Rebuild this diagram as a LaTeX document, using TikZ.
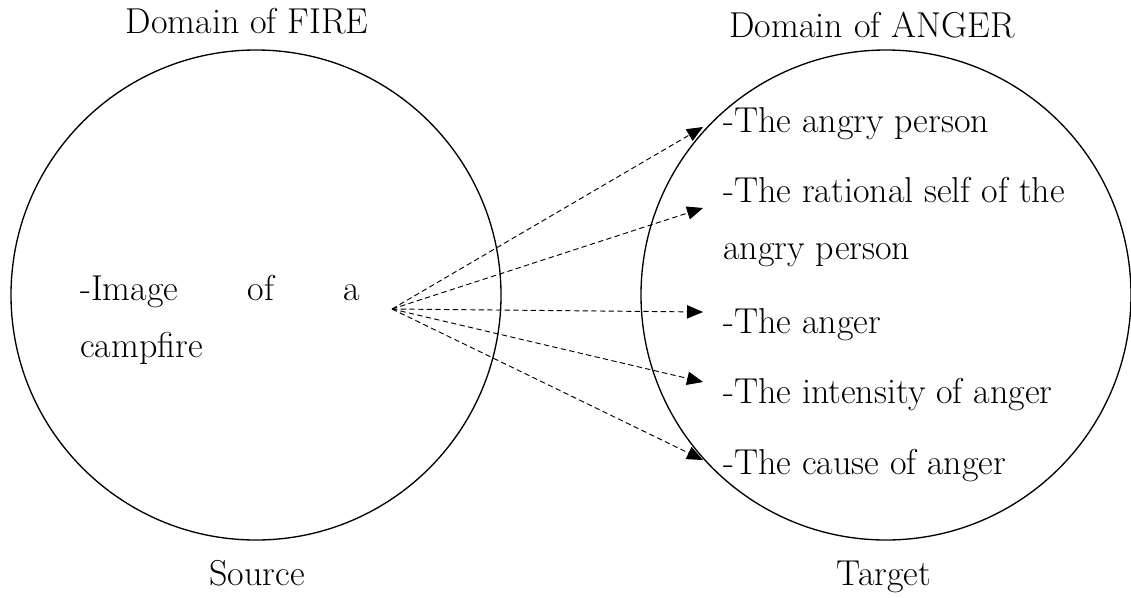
\documentclass[tikz,border=0pt]{standalone}
\usetikzlibrary{arrows.meta}
\begin{document}
\begin{tikzpicture}[x=0.75pt,y=-0.75pt,
  dom/.style={draw,circle,line width=1pt,inner sep=0pt,minimum size=367.5pt},
  lbl/.style={inner sep=0pt,anchor=base,font=\fontsize{27}{32}\selectfont},
  item/.style={inner sep=0pt,anchor=base west,font=\fontsize{27}{32}\selectfont},
  maparrow/.style={line width=0.7pt,dash pattern=on 4pt off 2.5pt,-{Triangle[length=12pt,width=10pt]}}]
\useasboundingbox (0,0) rectangle (1131,597);
\node[dom] (fire) at (256,295) {};
\node[dom] (anger) at (886,295) {};
\node[lbl] (tf) at (247,33) {Domain of FIRE};
\node[lbl] (ta) at (872,37) {Domain of ANGER};
\node[lbl] (src) at (257,585) {Source};
\node[lbl] (tgt) at (884,585) {Target};
\node[item] (img) at (80,300) {\makebox[210pt][s]{-Image of a}};
\node[item] (camp) at (80,357) {campfire};
\node[item] (r1) at (723,132) {-The angry person};
\node[item] (r2) at (723,202) {-The rational self of the};
\node[item] (r2b) at (723,259) {angry person};
\node[item] (r3) at (723,333) {-The anger};
\node[item] (r4) at (723,403) {-The intensity of anger};
\node[item] (r5) at (723,474) {-The cause of anger};
\coordinate (o) at (392,309);
\coordinate (a1) at (703,127);
\coordinate (a2) at (703,208);
\coordinate (a3) at (703,312);
\coordinate (a4) at (703,382);
\coordinate (a5) at (703,460);
\foreach \t in {a1,a2,a3,a4,a5} \draw[maparrow] (o) -- (\t);
\end{tikzpicture}
\end{document}
